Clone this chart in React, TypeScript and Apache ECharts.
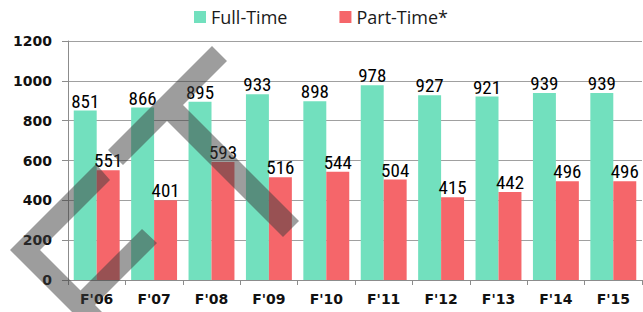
import React, { useEffect, useRef } from "react";
import * as echarts from "echarts";

const categories = ["F'06", "F'07", "F'08", "F'09", "F'10", "F'11", "F'12", "F'13", "F'14", "F'15"];
const fullTime = [851, 866, 895, 933, 898, 978, 927, 921, 939, 939];
const partTime = [551, 401, 593, 516, 544, 504, 415, 442, 496, 496];
const seriesNames = ["Full-Time", "Part-Time*"];

const overlayA = [
  [108, 150], [212, 46], [227, 61], [183, 105], [299, 221], [283, 237], [167, 121], [123, 165],
];
const overlayB = [
  [96, 164], [110, 180], [40, 250], [80.5, 290.5], [142, 229], [157, 243], [95, 305], [130, 340], [100, 340], [10, 250],
];

export default function App() {
  const ref = useRef<HTMLDivElement>(null);
  useEffect(() => {
    if (!ref.current) return;
    const chart = echarts.init(ref.current, null, { renderer: "svg" });
    const labelStyle = {
      show: true,
      position: "top" as const,
      distance: 0,
      color: "#000",
      fontFamily:
        "'Liberation Sans Narrow', 'Roboto Condensed', 'Open Sans Condensed', 'Noto Sans Condensed', 'Liberation Sans', sans-serif",
      fontWeight: "normal",
      fontSize: 19,
    };
    chart.setOption({
      animation: false,
      backgroundColor: "#fff",
      legend: {
        left: 194,
        top: 8,
        padding: 0,
        itemWidth: 12,
        itemHeight: 12,
        itemGap: 52,
        icon: "rect",
        textStyle: { fontFamily: "'Open Sans', sans-serif", fontSize: 18, color: "#1a1a1a" },
        data: seriesNames,
      },
      grid: { left: 68, right: 1, top: 41, bottom: 32, containLabel: false },
      xAxis: {
        type: "category",
        data: categories,
        axisLine: { lineStyle: { color: "#8c8c8c", width: 1 } },
        axisTick: { show: true, length: 5, lineStyle: { color: "#8c8c8c" } },
        axisLabel: {
          color: "#111",
          fontFamily: "'DejaVu Sans', sans-serif",
          fontWeight: "bold",
          fontSize: 14,
          margin: 12,
        },
      },
      yAxis: {
        type: "value",
        min: 0,
        max: 1200,
        interval: 200,
        axisLine: { show: true, lineStyle: { color: "#8c8c8c", width: 1 } },
        axisTick: { show: true, length: 6, lineStyle: { color: "#8c8c8c" } },
        splitLine: { lineStyle: { color: "#a0a0a0", width: 1 } },
        axisLabel: {
          color: "#111",
          fontFamily: "'DejaVu Sans', sans-serif",
          fontWeight: "bold",
          fontSize: 14,
          margin: 16,
          formatter: (v: number) => String(v),
        },
      },
      series: [
        {
          name: seriesNames[0],
          type: "bar",
          data: fullTime,
          barGap: "0%",
          barCategoryGap: "20%",
          itemStyle: { color: "#72E0BE" },
          label: labelStyle,
        },
        {
          name: seriesNames[1],
          type: "bar",
          data: partTime,
          barGap: "0%",
          barCategoryGap: "20%",
          itemStyle: { color: "#F5666A" },
          label: labelStyle,
        },
      ],
      graphic: [
        {
          type: "polygon",
          z: 100,
          silent: true,
          shape: { points: overlayA },
          style: { fill: "rgba(60,60,60,0.5)" },
        },
        {
          type: "polygon",
          z: 100,
          silent: true,
          shape: { points: overlayB },
          style: { fill: "rgba(60,60,60,0.5)" },
        },
      ],
    });
    return () => chart.dispose();
  }, []);
  return (
    <div
      ref={ref}
      style={{ position: "fixed", left: 0, top: 0, width: 643, height: 312, background: "#fff" }}
    />
  );
}
